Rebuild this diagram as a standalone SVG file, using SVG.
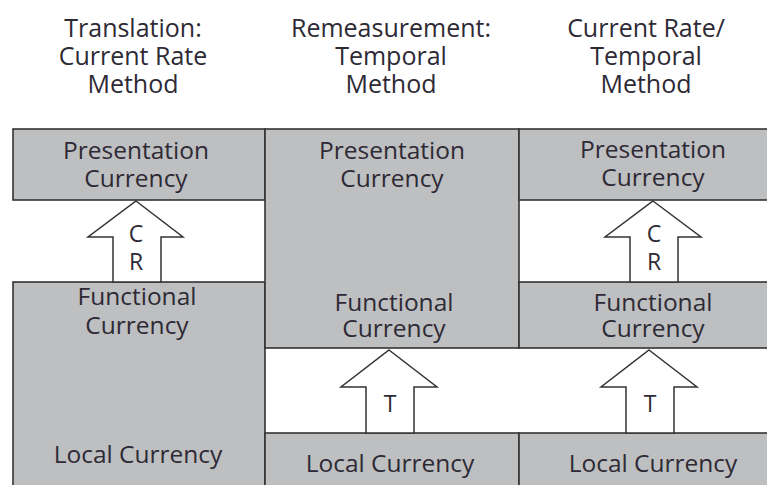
<svg xmlns="http://www.w3.org/2000/svg" width="767" height="485" viewBox="0 0 767 485">
<style>
.box{fill:#bebfc1;stroke:#333;stroke-width:1.6}
.lbl{font-family:"Open Sans","Noto Sans","DejaVu Sans",sans-serif;font-size:24.5px;fill:#2e2a35;text-anchor:middle}
.hdr{font-family:"Open Sans","Noto Sans","DejaVu Sans",sans-serif;font-size:25px;fill:#2e2a35;text-anchor:middle}
.arrow{fill:#fff;stroke:#333;stroke-width:1.5;stroke-linejoin:miter}
.al{font-family:"Open Sans","Noto Sans","DejaVu Sans",sans-serif;font-size:23px;fill:#2e2a35;text-anchor:middle}
</style>
<rect width="767" height="485" fill="#fff"/>
<g id="headers">
<text class="hdr" x="133" y="37">Translation:</text>
<text class="hdr" x="133" y="65">Current Rate</text>
<text class="hdr" x="133" y="93">Method</text>
<text class="hdr" x="391" y="37">Remeasurement:</text>
<text class="hdr" x="391" y="65">Temporal</text>
<text class="hdr" x="391" y="93">Method</text>
<text class="hdr" x="646" y="37">Current Rate/</text>
<text class="hdr" x="646" y="65">Temporal</text>
<text class="hdr" x="646" y="93">Method</text>
</g>
<g id="col1-presentation">
<rect class="box" x="13" y="129" width="252" height="71"/>
<text class="lbl" x="136" y="159">Presentation</text>
<text class="lbl" x="136" y="187">Currency</text>
</g>
<g id="col1-functional-local">
<rect class="box" x="13" y="282" width="252" height="215"/>
<text class="lbl" x="137" y="305">Functional</text>
<text class="lbl" x="137" y="334">Currency</text>
<text class="lbl" x="138" y="463">Local Currency</text>
</g>
<g id="col2-presentation-functional">
<rect class="box" x="265" y="129" width="254" height="219"/>
<text class="lbl" x="392" y="159">Presentation</text>
<text class="lbl" x="392" y="187">Currency</text>
<text class="lbl" x="394" y="311">Functional</text>
<text class="lbl" x="394" y="337">Currency</text>
</g>
<g id="col2-local">
<rect class="box" x="265" y="433" width="254" height="64"/>
<text class="lbl" x="390" y="472">Local Currency</text>
</g>
<g id="col3-presentation">
<rect class="box" x="519" y="129" width="260" height="71"/>
<text class="lbl" x="653" y="158">Presentation</text>
<text class="lbl" x="653" y="186">Currency</text>
</g>
<g id="col3-functional">
<rect class="box" x="519" y="282" width="260" height="66"/>
<text class="lbl" x="653" y="311">Functional</text>
<text class="lbl" x="653" y="337">Currency</text>
</g>
<g id="col3-local">
<rect class="box" x="519" y="433" width="260" height="64"/>
<text class="lbl" x="653" y="472">Local Currency</text>
</g>
<g id="connectors">
<g id="arrow-cr-1">
<polygon class="arrow" points="136,201 183,237 161,237 161,282 113,282 113,237 88,237"/>
<text class="al" x="136" y="242">C</text>
<text class="al" x="136" y="270">R</text>
</g>
<g id="arrow-cr-3">
<polygon class="arrow" points="653,201 701,237 678,237 678,282 630,282 630,237 605,237"/>
<text class="al" x="654" y="242">C</text>
<text class="al" x="654" y="270">R</text>
</g>
<g id="arrow-t-2">
<polygon class="arrow" points="389,350 437,387 414,387 414,433 366,433 366,387 341,387"/>
<text class="al" x="390" y="412">T</text>
</g>
<g id="arrow-t-3">
<polygon class="arrow" points="649,350 697,387 674,387 674,433 626,433 626,387 601,387"/>
<text class="al" x="650" y="412">T</text>
</g>
</g>
</svg>
